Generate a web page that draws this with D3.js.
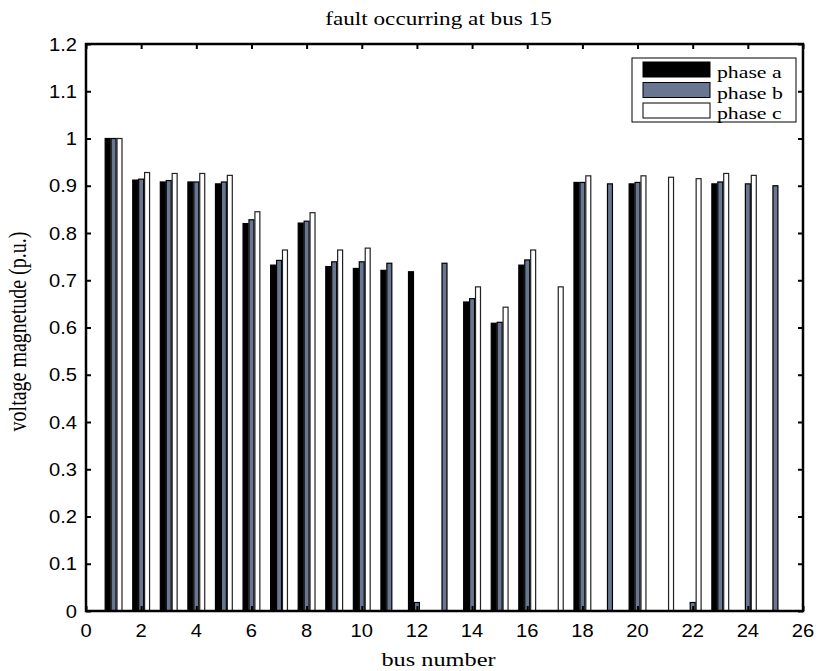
<!DOCTYPE html>
<html>
<head>
<meta charset="utf-8">
<script src="https://cdn.jsdelivr.net/npm/d3@7"></script>
<style>
  html, body { margin: 0; padding: 0; background: #fff; }
  svg { display: block; }
  .tick-label { font-family: 'Liberation Sans', Arial, sans-serif; font-size: 18px; fill: #000; }
  .serif { font-family: 'Liberation Serif', 'Times New Roman', serif; fill: #000; }
</style>
</head>
<body>
<svg id="chart" width="822" height="671"></svg>
<script>
// Bus numbers along the x axis
const buses = [1, 2, 3, 4, 5, 6, 7, 8, 9, 10, 11, 12, 13, 14, 15, 16, 17, 18, 19, 20, 21, 22, 23, 24, 25];

// Per-phase voltage magnitudes (p.u.) for each bus
const phaseA = [1.000, 0.912, 0.908, 0.908, 0.904, 0.820, 0.732, 0.821, 0.729, 0.725, 0.721, 0.718, 0, 0.654, 0.609, 0.732, 0, 0.907, 0, 0.904, 0, 0, 0.904, 0, 0];
const phaseB = [1.000, 0.914, 0.911, 0.908, 0.908, 0.828, 0.742, 0.825, 0.739, 0.739, 0.736, 0.018, 0.736, 0.661, 0.611, 0.743, 0, 0.907, 0.904, 0.907, 0, 0.018, 0.908, 0.904, 0.900];
const phaseC = [1.000, 0.928, 0.926, 0.926, 0.922, 0.845, 0.764, 0.843, 0.764, 0.768, 0, 0, 0, 0.686, 0.643, 0.764, 0.686, 0.921, 0, 0.921, 0.918, 0.915, 0.926, 0.922, 0];

const seriesNames = ["phase a", "phase b", "phase c"];
const seriesColors = ["#000000", "#687691", "#ffffff"];

const xTicks = d3.range(0, 27, 2);
const yTicks = d3.range(0, 13).map(i => +(i / 10).toFixed(1));

const margin = { left: 86, right: 19, top: 44, bottom: 60 };
const W = 822, H = 671;
const x = d3.scaleLinear().domain([0, 26]).range([margin.left, W - margin.right]);
const y = d3.scaleLinear().domain([0, 1.2]).range([H - margin.bottom, margin.top]);

const svg = d3.select("#chart");

// Horizontally widened text, anchored at (px, py)
function wideText(parent, px, py, str, size, sx, anchor, cls) {
  return parent.append("text")
    .attr("class", cls)
    .attr("transform", `translate(${px},${py}) scale(${sx},1)`)
    .attr("text-anchor", anchor)
    .attr("font-size", size)
    .text(str);
}

// Grouped bars: three bars per bus
const series = [phaseA, phaseB, phaseC];
const slot = 0.215, barW = 0.18;
series.forEach((vals, si) => {
  const off = (si - 1) * slot;
  svg.append("g")
    .selectAll("rect")
    .data(buses.map((b, i) => ({ b, v: vals[i] })).filter(d => d.v > 0))
    .join("rect")
    .attr("x", d => x(d.b + off - barW / 2))
    .attr("width", d => x(d.b + off + barW / 2) - x(d.b + off - barW / 2))
    .attr("y", d => y(d.v))
    .attr("height", d => y(0) - y(d.v))
    .attr("fill", seriesColors[si])
    .attr("stroke", si === 2 ? "#222" : "#000")
    .attr("stroke-width", 1.2);
});

// Axes box with inward ticks on all four sides
const tickLen = 5;
const axB = d3.axisBottom(x).tickValues(xTicks).tickSizeInner(-tickLen).tickSizeOuter(0).tickFormat("");
const axT = d3.axisTop(x).tickValues(xTicks).tickSizeInner(-tickLen).tickSizeOuter(0).tickFormat("");
const axL = d3.axisLeft(y).tickValues(yTicks).tickSizeInner(-tickLen).tickSizeOuter(0).tickFormat("");
const axR = d3.axisRight(y).tickValues(yTicks).tickSizeInner(-tickLen).tickSizeOuter(0).tickFormat("");

function styleAxis(g) {
  g.select(".domain").remove();
  g.selectAll(".tick line").attr("stroke", "#000").attr("stroke-width", 2);
}

svg.append("g").attr("transform", `translate(0,${y(0)})`).call(axB).call(styleAxis);
svg.append("g").attr("transform", `translate(0,${y(1.2)})`).call(axT).call(styleAxis);
svg.append("g").attr("transform", `translate(${x(0)},0)`).call(axL).call(styleAxis);
svg.append("g").attr("transform", `translate(${x(26)},0)`).call(axR).call(styleAxis);

// Tick labels
const fmt = d3.format("~g");
const labels = svg.append("g");
xTicks.forEach(t => wideText(labels, x(t), y(0) + 26, fmt(t), 18, 1.12, "middle", "tick-label"));
yTicks.forEach(t => wideText(labels, x(0) - 9, y(t) + 6.5, fmt(t), 18, 1.12, "end", "tick-label"));

svg.append("rect")
  .attr("x", x(0)).attr("y", y(1.2))
  .attr("width", x(26) - x(0)).attr("height", y(0) - y(1.2))
  .attr("fill", "none").attr("stroke", "#000").attr("stroke-width", 2.5);

// Title and axis labels
const midX = (x(0) + x(26)) / 2;
wideText(svg, midX - 6, 25, "fault occurring at bus 15", 19, 1.22, "middle", "serif");
wideText(svg, midX - 6, 666, "bus number", 19, 1.28, "middle", "serif");

svg.append("text").attr("class", "serif")
  .attr("transform", `translate(26,${(y(0) + y(1.2)) / 2 + 4}) rotate(-90) scale(1,1.25)`)
  .attr("text-anchor", "middle").attr("font-size", 20)
  .text("voltage magnetude (p.u.)");

// Legend
const lg = { x: 632, y: 58, w: 164, h: 64 };
const legend = svg.append("g");
legend.append("rect")
  .attr("x", lg.x).attr("y", lg.y).attr("width", lg.w).attr("height", lg.h)
  .attr("fill", "#fff").attr("stroke", "#000").attr("stroke-width", 1);
seriesNames.forEach((name, i) => {
  const top = lg.y + 4 + i * 20.5;
  legend.append("rect")
    .attr("x", lg.x + 11).attr("y", top)
    .attr("width", 67).attr("height", 15)
    .attr("fill", seriesColors[i]).attr("stroke", "#000").attr("stroke-width", 1);
  wideText(legend, lg.x + 85, top + 16, name, 17, 1.28, "start", "serif");
});
</script>
</body>
</html>
